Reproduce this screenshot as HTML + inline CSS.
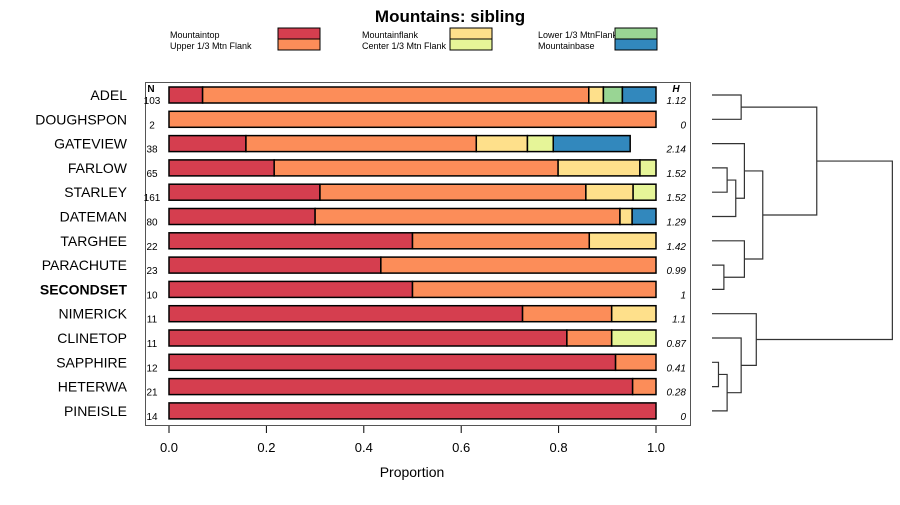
<!DOCTYPE html>
<html><head><meta charset="utf-8"><style>
body{margin:0;background:#fff;font-family:"Liberation Sans",sans-serif}
svg text{font-family:"Liberation Sans",sans-serif}
</style></head><body>
<svg id="c" width="900" height="500"></svg>
<script>
const sites=["ADEL","DOUGHSPON","GATEVIEW","FARLOW","STARLEY","DATEMAN","TARGHEE","PARACHUTE","SECONDSET","NIMERICK","CLINETOP","SAPPHIRE","HETERWA","PINEISLE"];
const nVals=[103,2,38,65,161,80,22,23,10,11,11,12,21,14];
const hVals=["1.12","0","2.14","1.52","1.52","1.29","1.42","0.99","1","1.1","0.87","0.41","0.28","0"];
const mountaintop=[.069,0,.158,.216,.31,.30,.5,.435,.5,.726,.817,.917,.952,1];
const upperFlank=[.793,1,.473,.583,.546,.626,.363,.565,.5,.183,.092,.083,.048,0];
const mountainflank=[.03,0,.105,.168,.097,.025,.137,0,0,.091,0,0,0,0];
const centerFlank=[0,0,.053,.033,.047,0,0,0,0,0,.091,0,0,0];
const lowerFlank=[.039,0,0,0,0,0,0,0,0,0,0,0,0,0];
const mountainbase=[.069,0,.158,0,0,.049,0,0,0,0,0,0,0,0];
const xTicks=[0,0.2,0.4,0.6,0.8,1.0];
// dendrogram merges: [nodeA, nodeB, height]; leaves 0-13, merged clusters 14+
const merges=[[0,1,0.27],[3,4,0.14],[15,5,0.22],[2,16,0.30],[7,8,0.11],[6,18,0.30],[17,19,0.47],[14,20,0.97],[11,12,0.06],[22,13,0.14],[10,23,0.27],[9,24,0.41],[21,25,1.67]];
const ns="http://www.w3.org/2000/svg",svg=document.getElementById('c');
function el(t,a,txt){const e=document.createElementNS(ns,t);for(const k in a)e.setAttribute(k,a[k]);if(txt!==undefined)e.textContent=txt;svg.appendChild(e);return e;}
const x=v=>169+v*487, y=i=>95+i*24.3;
const series=[mountaintop,upperFlank,mountainflank,centerFlank,lowerFlank,mountainbase];
const cols=["#d53e4f","#fc8d59","#fee08b","#e6f598","#99d594","#3288bd"];
const snames=["mountaintop","upper-flank","mountainflank","center-flank","lower-flank","mountainbase"];
let t=el('text',{x:450,y:22,'text-anchor':'middle','font-size':17,'font-weight':'bold'},'Mountains: sibling');

const leg=[["Mountaintop",170,38,278,0],["Upper 1/3 Mtn Flank",170,49,278,1],["Mountainflank",362,38,450,2],["Center 1/3 Mtn Flank",362,49,450,3],["Lower 1/3 MtnFlank",538,38,615,4],["Mountainbase",538,49,615,5]];
leg.forEach(l=>{const a=el('text',{x:l[1],y:l[2],'font-size':9},l[0]);
const r=el('rect',{x:l[3],y:l[2]-10,width:42,height:11,fill:cols[l[4]],stroke:'#000','stroke-width':1});});
const p=el('rect',{x:145.5,y:82.5,width:545,height:343,fill:'none',stroke:'#555'});
let a=el('text',{x:151,y:92,'text-anchor':'middle','font-size':10,'font-weight':'bold'},'N');
a=el('text',{x:676,y:92,'text-anchor':'middle','font-size':10,'font-weight':'bold','font-style':'italic'},'H');
sites.forEach((s,i)=>{const cy=y(i);
 const lb=el('text',{x:127,y:cy+5,'text-anchor':'end','font-size':14,'font-weight':s==='SECONDSET'?'bold':'normal'},s);
 const nt=el('text',{x:152,y:cy+9,'text-anchor':'middle','font-size':10},nVals[i]);
 const ht=el('text',{x:686,y:cy+9,'text-anchor':'end','font-size':10,'font-style':'italic'},hVals[i]);
 let c=0;series.forEach((sr,k)=>{const v=sr[i];if(v<=0)return;
  const r=el('rect',{x:x(c),y:cy-8,width:x(c+v)-x(c),height:16,fill:cols[k],stroke:'#000','stroke-width':1.5});
  c+=v;});
});
xTicks.forEach(v=>{const l=el('line',{x1:x(v),x2:x(v),y1:426,y2:433,stroke:'#000'});
 const tt=el('text',{x:x(v),y:452,'text-anchor':'middle','font-size':13},v.toFixed(1));});
a=el('text',{x:412,y:477,'text-anchor':'middle','font-size':14},'Proportion');
const hx=h=>712+h*108;const nodes=sites.map((s,i)=>({y:y(i),h:0}));
merges.forEach(m=>{const A=nodes[m[0]],B=nodes[m[1]],X=hx(m[2]);
 const pl=el('polyline',{points:`${hx(A.h)},${A.y} ${X},${A.y} ${X},${B.y} ${hx(B.h)},${B.y}`,fill:'none',stroke:'#333','stroke-width':1.2});
 
 nodes.push({y:(A.y+B.y)/2,h:m[2]});});
</script></body></html>
